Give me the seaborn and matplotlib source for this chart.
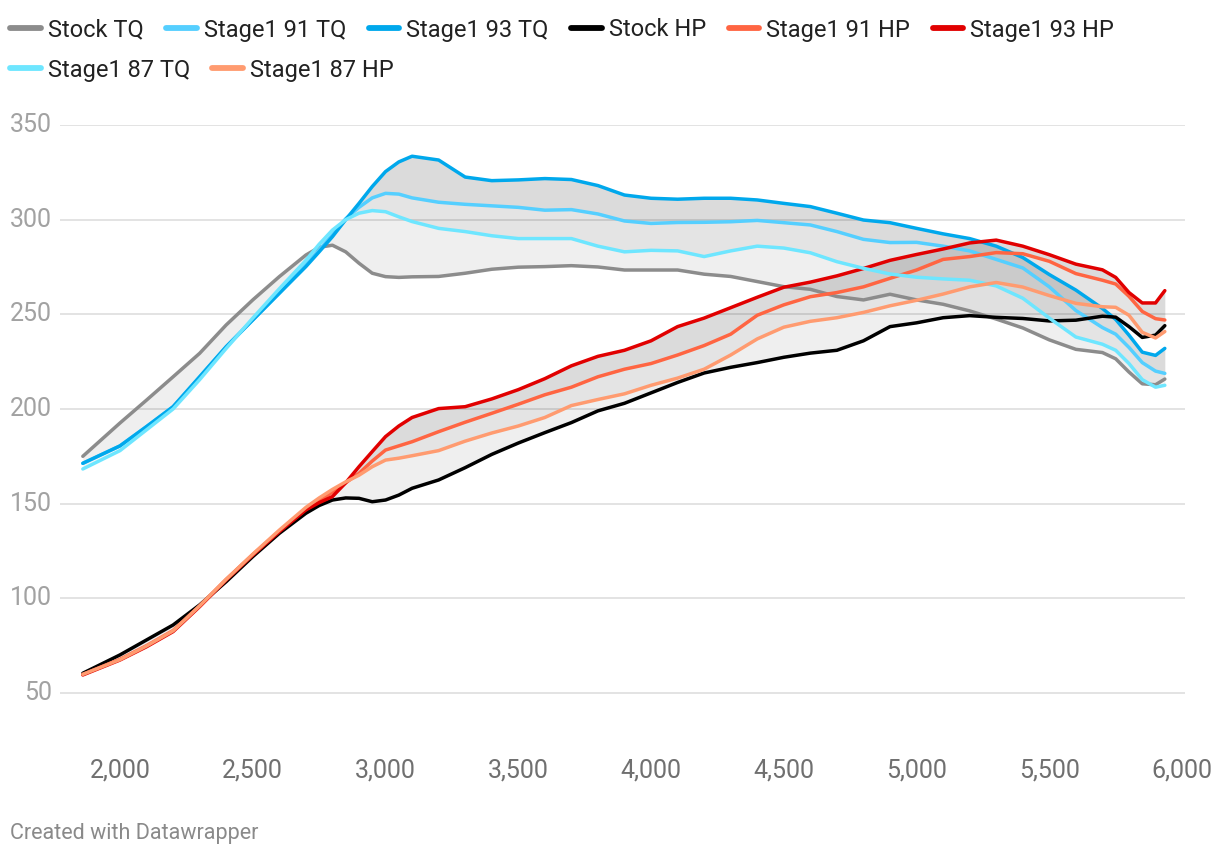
import matplotlib
matplotlib.use("Agg")
import matplotlib.pyplot as plt
from matplotlib.lines import Line2D
import seaborn as sns
import pandas as pd

rpm = [1860, 2000, 2100, 2200, 2300, 2400, 2500, 2600, 2700, 2750, 2800, 2850, 2900, 2950,
       3000, 3050, 3100, 3200, 3300, 3400, 3500, 3600, 3700, 3800, 3900, 4000, 4100, 4200,
       4300, 4400, 4500, 4600, 4700, 4800, 4900, 5000, 5100, 5200, 5300, 5400, 5500, 5600,
       5700, 5750, 5800, 5850, 5900, 5935]

stock_tq = [175, 192.6, 204.7, 217, 229.4, 244.4, 257.6, 269.9, 281.3, 285.4, 286.5, 283, 277, 271.7,
            269.9, 269.5, 269.8, 270, 271.7, 273.8, 274.9, 275.2, 275.7, 275, 273.4, 273.4, 273.4, 271.2,
            270, 267.3, 264.6, 263.2, 259.4, 257.6, 260.6, 257.6, 255.3, 251.8, 247.5, 242.8, 236.5, 231.5,
            229.8, 226.5, 219.5, 213.3, 212.8, 215.8]
s1_91_tq = [171.3, 180.5, 190.7, 201.2, 217, 232.9, 247, 261.3, 276, 284, 292, 300.5, 306.5, 311.5,
            313.9, 313.5, 311.5, 309.2, 308.1, 307.3, 306.5, 305, 305.3, 303, 299.3, 298, 298.5, 298.6,
            298.9, 299.6, 298.4, 297.2, 293.7, 289.6, 287.9, 288, 286, 283.5, 279, 274.5, 264.5, 252,
            243, 239.5, 232.5, 224.5, 220, 218.8]
s1_93_tq = [171.3, 180.5, 190.7, 201.2, 217, 232.9, 247, 261.1, 275.2, 283, 291, 300, 308.6, 317.5,
            325.4, 330.5, 333.5, 331.5, 322.5, 320.6, 321, 321.7, 321.2, 318, 313, 311.3, 310.8, 311.3,
            311.3, 310.4, 308.6, 306.9, 303.4, 299.8, 298.4, 295.4, 292.5, 290, 286, 280, 271, 262.8,
            253.1, 247.3, 239, 230, 228.3, 232]
stock_hp = [60.4, 70.1, 78, 85.9, 96.5, 108.8, 122, 134.3, 144.9, 149, 151.9, 153, 152.8, 151,
            151.9, 154.5, 158.1, 162.5, 169, 176, 182, 187.5, 192.8, 199, 203, 208.5, 214, 219,
            222, 224.5, 227.3, 229.5, 231, 236, 243.5, 245.5, 248.2, 249.3, 248.4, 247.8, 246.5, 246.9,
            249, 248.5, 243.5, 237.8, 239, 244]
s1_91_hp = [59.8, 67.8, 75, 83, 96, 110, 123, 135.5, 147, 151.5, 156, 161, 166, 172.5,
            178.3, 180.5, 182.7, 188, 193, 197.7, 202.5, 207.5, 211.5, 217, 221, 224, 228.5, 233.5,
            239.5, 249.5, 255, 259.3, 261.5, 264.5, 269, 273.4, 279, 280.5, 282.6, 282, 278, 271.5,
            268, 266, 259.5, 251.5, 247.7, 247]
s1_93_hp = [59.5, 67.4, 74.4, 82.4, 95.6, 109.7, 122.9, 135.2, 146.7, 150.5, 153.7, 161, 169.5, 177.5,
            185.4, 191, 195.5, 200.2, 201.2, 205.3, 210.2, 216, 222.8, 227.8, 231, 236, 243.5, 248,
            253.5, 259, 264.3, 267, 270.3, 274.2, 278.5, 281.6, 284.5, 287.7, 289.2, 286, 281.5, 276.5,
            273.5, 269.5, 261.5, 256, 256, 262.5]
s1_87_tq = [168.3, 178, 189, 200, 215.5, 232, 248, 263.5, 278.5, 287, 294.5, 300, 303.4, 304.8,
            304.2, 301.5, 299, 295.4, 293.7, 291.5, 290, 290, 290, 286, 283, 283.8, 283.5, 280.5,
            283.5, 286, 285, 282.5, 277.8, 274.3, 271.3, 269.6, 268.7, 268, 265, 258.5, 248, 238,
            234.2, 231, 224, 215.5, 211.5, 212.5]
s1_87_hp = [59.8, 67.6, 74.8, 82.8, 96, 110, 123.3, 136, 148, 153, 157.5, 161.5, 165, 169.5,
            173, 174, 175.3, 178, 183, 187.3, 191, 195.5, 201.8, 205, 208, 212.5, 216.3, 221,
            228.5, 237, 243.2, 246.3, 248.2, 251, 254.5, 257.4, 260.7, 264.5, 266.8, 264.4, 259.9, 255.8,
            254, 253.7, 249.5, 240.5, 237.5, 240.9]

series_names = ["Stock TQ", "Stage1 91 TQ", "Stage1 93 TQ", "Stock HP",
                "Stage1 91 HP", "Stage1 93 HP", "Stage1 87 TQ", "Stage1 87 HP"]
series_values = [stock_tq, s1_91_tq, s1_93_tq, stock_hp, s1_91_hp, s1_93_hp, s1_87_tq, s1_87_hp]
colors = ["#8c8c8c", "#55cfff", "#00a8ec", "#000000",
          "#ff6542", "#e10000", "#6ee6ff", "#ff9b70"]
y_ticks = [50, 100, 150, 200, 250, 300, 350]
x_ticks = [2000, 2500, 3000, 3500, 4000, 4500, 5000, 5500, 6000]

rows = []
for name, vals in zip(series_names, series_values):
    for r, v in zip(rpm, vals):
        rows.append({"rpm": r, "value": v, "series": name})
df = pd.DataFrame(rows)

sns.set_theme(style="white")
plt.rcParams['font.family'] = ['Roboto', 'DejaVu Sans']

W, H = 1220, 858
fig = plt.figure(figsize=(W / 100, H / 100), dpi=100)
left, right, top, bottom = 60, 1185, 125, 745
ax = fig.add_axes([left / W, 1 - bottom / H, (right - left) / W, (bottom - top) / H])

# shaded areas between the stock and stage1 curves
ax.fill_between(rpm, stock_tq, s1_93_tq, color="black", alpha=0.062, lw=0, zorder=1)
ax.fill_between(rpm, s1_87_tq, s1_93_tq, color="black", alpha=0.045, lw=0, zorder=1)
ax.fill_between(rpm, s1_91_tq, s1_93_tq, color="black", alpha=0.035, lw=0, zorder=1)
ax.fill_between(rpm, stock_hp, s1_93_hp, color="black", alpha=0.062, lw=0, zorder=1)
ax.fill_between(rpm, s1_87_hp, s1_93_hp, color="black", alpha=0.045, lw=0, zorder=1)
ax.fill_between(rpm, s1_91_hp, s1_93_hp, color="black", alpha=0.035, lw=0, zorder=1)

sns.lineplot(data=df, x="rpm", y="value", hue="series", hue_order=series_names,
             palette=dict(zip(series_names, colors)), estimator=None, sort=False,
             linewidth=2.5, legend=False, ax=ax, zorder=3)
for ln in ax.get_lines():
    ln.set_solid_joinstyle("round")
    ln.set_solid_capstyle("round")

ax.set_xlim(1774, 6011)
ax.set_ylim(22.5, 350)
ax.set_yticks(y_ticks)
ax.set_yticklabels([str(v) for v in y_ticks])
ax.set_xticks(x_ticks)
ax.set_xticklabels([f"{v:,}" for v in x_ticks])
ax.grid(axis="y", color="#e3e3e3", linewidth=1.4, zorder=0)
ax.grid(axis="x", visible=False)
ax.set_axisbelow(True)
for s in ax.spines.values():
    s.set_visible(False)
ax.set_xlabel("")
ax.set_ylabel("")
ax.tick_params(axis="y", length=0, pad=6, labelsize=18, labelcolor="#a2a2a2")
ax.tick_params(axis="x", length=0, pad=10, labelsize=18, labelcolor="#707070")
for lbl in ax.get_yticklabels():
    lbl.set_verticalalignment("center")

# legend: two flowing rows
def make_handles(names):
    return [Line2D([0], [0], color=colors[series_names.index(n)], lw=4.2, solid_capstyle="round")
            for n in names]

row1 = series_names[:6]
row2 = series_names[6:]
leg_kw = dict(frameon=False, fontsize=17, handlelength=1.3, handletextpad=0.3,
              columnspacing=0.95, borderaxespad=0, borderpad=0, labelcolor="#222222")
leg1 = fig.legend(make_handles(row1), row1, ncol=6, loc="center left",
                  bbox_to_anchor=(10 / W, 1 - 30 / H), **leg_kw)
leg2 = fig.legend(make_handles(row2), row2, ncol=2, loc="center left",
                  bbox_to_anchor=(10 / W, 1 - 70 / H), **leg_kw)

fig.text(10 / W, 1 - 834 / H, "Created with Datawrapper", fontsize=15.5,
         color="#8a8a8a", ha="left", va="center")

fig.savefig("out.png", dpi=100, facecolor="white")
